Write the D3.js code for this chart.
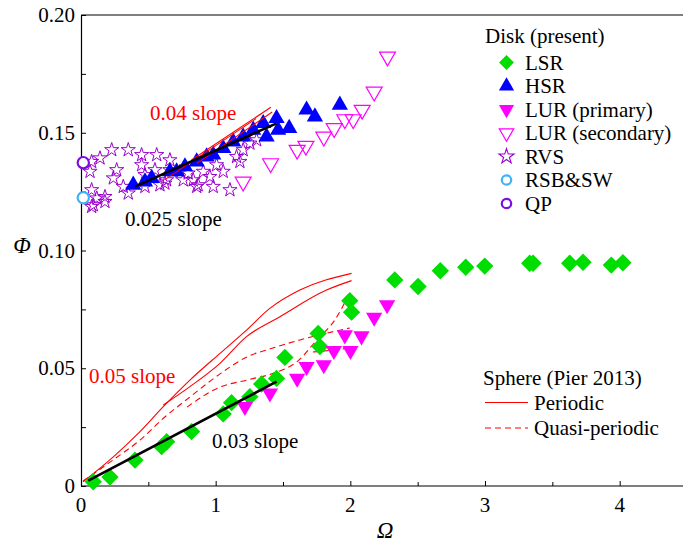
<!DOCTYPE html>
<html><head><meta charset="utf-8">
<script src="https://cdn.jsdelivr.net/npm/d3@7"></script>
<style>body{margin:0;background:#fff}svg{display:block}</style>
</head><body><div id="chart"></div>
<script>
// ---- data (Omega, Phi) ----
const lsr = [[0.091,0.0018],[0.215,0.0038],[0.401,0.0110],[0.599,0.0167],[0.636,0.0188],[0.821,0.0231],[1.056,0.0306],[1.118,0.0354],[1.254,0.0379],[1.341,0.0433],[1.452,0.0457],[1.514,0.0546],[1.761,0.0648],[1.774,0.0592],[1.996,0.0787],[2.009,0.0738],[2.330,0.0875],[2.503,0.0847],[2.668,0.0914],[2.857,0.0929],[2.998,0.0934],[3.332,0.0946],[3.357,0.0946],[3.629,0.0946],[3.728,0.0950],[3.938,0.0938],[4.024,0.0948]];
const hsr = [[0.388,0.1278],[0.475,0.1292],[0.525,0.1307],[0.660,0.1335],[0.710,0.1335],[0.772,0.1356],[0.859,0.1377],[0.933,0.1398],[0.982,0.1406],[1.056,0.1434],[1.130,0.1462],[1.204,0.1483],[1.279,0.1512],[1.353,0.1540],[1.452,0.1561],[1.378,0.1483],[1.464,0.1512],[1.546,0.1519],[1.675,0.1597],[1.737,0.1568],[1.922,0.1618]];
const lurPrimary = [[1.217,0.0337],[1.403,0.0394],[1.605,0.0457],[1.675,0.0507],[1.803,0.0514],[1.878,0.0575],[1.959,0.0641],[2.001,0.0575],[2.083,0.0637],[2.177,0.0716],[2.273,0.0769]];
const lurSecondary = [[1.204,0.1292],[1.408,0.1370],[1.605,0.1427],[1.670,0.1444],[1.803,0.1483],[1.880,0.1519],[1.959,0.1557],[2.021,0.1557],[2.088,0.1597],[2.177,0.1674],[2.276,0.1823]];
const rvs = [[0.079,0.1377],[0.141,0.1392],[0.067,0.1335],[0.079,0.1257],[0.117,0.1222],[0.091,0.1193],[0.178,0.1228],[0.228,0.1427],[0.265,0.1342],[0.351,0.1427],[0.314,0.1271],[0.450,0.1406],[0.450,0.1363],[0.562,0.1406],[0.549,0.1342],[0.475,0.1321],[0.660,0.1384],[0.660,0.1342],[0.636,0.1299],[0.586,0.1278],[0.735,0.1335],[0.796,0.1328],[0.759,0.1299],[0.833,0.1299],[0.859,0.1271],[0.908,0.1335],[0.957,0.1313],[1.007,0.1363],[0.982,0.1271],[1.106,0.1257],[1.056,0.1335],[1.155,0.1398],[1.204,0.1427],[1.254,0.1455],[1.304,0.1469],[1.180,0.1377],[0.240,0.1307],[0.079,0.1186],[0.178,0.1207],[0.351,0.1243],[0.475,0.1271],[0.623,0.1285],[0.870,0.1278]];
const rsbsw = [[0.017,0.1224]];
const qp = [[0.017,0.1373]];
// sphere (Pier 2013) curves
const periodic = [
  [[0.015,0.0018],[0.240,0.0124],[0.438,0.0231],[0.611,0.0337],[0.809,0.0450],[1.032,0.0563],[1.229,0.0662],[1.402,0.0754],[1.625,0.0832],[2.009,0.0903]],
  [[0.611,0.0344],[0.809,0.0422],[1.032,0.0521],[1.229,0.0634],[1.477,0.0719],[1.823,0.0832],[2.009,0.0872]]
];
const quasiPeriodic = [
  [[0.015,0.0021],[0.237,0.0110],[0.438,0.0195],[0.623,0.0293],[0.809,0.0378],[1.032,0.0476],[1.232,0.0548],[1.425,0.0586],[1.625,0.0620],[1.796,0.0645],[1.996,0.0671]],
  [[0.787,0.0335],[1.032,0.0420],[1.232,0.0450],[1.455,0.0484],[1.603,0.0527],[1.751,0.0620],[1.885,0.0705],[1.996,0.0820]],
  [[1.722,0.0569],[1.870,0.0577],[1.996,0.0586]]
];
// slope lines
const slope04 = [
  [[0.62,0.1300],[1.30,0.1560]],
  [[0.82,0.1384],[1.41,0.1608]],
  [[0.86,0.1370],[1.42,0.1588]]
];
const slope025 = [[0.401,0.1271],[1.452,0.1540]];
const slope03 = [[0.054,0.00225],[1.452,0.0443]];
const xTicks = [0,1,2,3,4];
const yTicks = [0,0.05,0.10,0.15,0.20];
const yTickLabels = ["0","0.05","0.10","0.15","0.20"];
const legendLabels = ["LSR","HSR","LUR (primary)","LUR (secondary)","RVS","RSB&SW","QP"];

// ---- drawing ----
const FONT="Liberation Serif";
const W=683,H=546;
const svg=d3.select("#chart").append("svg").attr("width",W).attr("height",H);
const x=d3.scaleLinear().domain([0,4.5]).range([81,687]);
const y=d3.scaleLinear().domain([0,0.2]).range([486,15]);
function txt(sel,xx,yy,s,size,color){
  return sel.append("text").attr("x",xx).attr("y",yy).attr("font-family",FONT)
    .attr("font-size",size).attr("fill",color||"#000").text(s);
}

// frame
svg.append("line").attr("x1",x(0)).attr("x2",W).attr("y1",y(0.2)).attr("y2",y(0.2)).attr("stroke","#000").attr("stroke-width",1.2);
const xAxis=svg.append("g").attr("transform",`translate(0,${y(0)})`)
  .call(d3.axisBottom(x).tickValues(d3.range(0,4.51,0.5)).tickSize(0).tickFormat(""));
xAxis.select(".domain").attr("stroke-width",1.2).attr("d",`M${x(0)},0H${W}`);
xAxis.selectAll(".tick line").attr("y2",d=>Number.isInteger(d)?-5:-4).attr("stroke","#000");
xTicks.forEach(d=>txt(svg,x(d),512,d,21).attr("text-anchor","middle"));
const yAxis=svg.append("g").attr("transform",`translate(${x(0)},0)`)
  .call(d3.axisLeft(y).tickValues(d3.range(0,0.2001,0.025)).tickSize(0).tickFormat(""));
yAxis.select(".domain").attr("stroke-width",1.2);
yAxis.selectAll(".tick line").attr("x2",5).attr("stroke","#000");
yTicks.forEach((d,i)=>txt(svg,75,y(d)+7,yTickLabels[i],21).attr("text-anchor","end"));
txt(svg,22,253,"Φ",23).attr("text-anchor","middle").attr("font-style","italic");
txt(svg,385,538,"Ω",23).attr("text-anchor","middle").attr("font-style","italic");

const line=d3.line().x(d=>x(d[0])).y(d=>y(d[1]));
const curve=d3.line().x(d=>x(d[0])).y(d=>y(d[1])).curve(d3.curveMonotoneX);
const g=svg.append("g");
periodic.forEach(c=>g.append("path").attr("d",curve(c)).attr("fill","none").attr("stroke","#f00").attr("stroke-width",1.1));
quasiPeriodic.forEach(c=>g.append("path").attr("d",curve(c)).attr("fill","none").attr("stroke","#f00").attr("stroke-width",1.1).attr("stroke-dasharray","6,4"));

// markers
const sym=(type,size)=>d3.symbol().type(type).size(size)();
function pts(data,type,size,rot,fill,stroke,sw){
  g.append("g").selectAll("path").data(data).join("path")
   .attr("d",sym(type,size))
   .attr("transform",d=>`translate(${x(d[0])},${y(d[1])}) rotate(${rot})`)
   .attr("fill",fill).attr("stroke",stroke).attr("stroke-width",sw);
}
pts(rvs,d3.symbolStar,62,0,"none","#9900cc",1);
pts(lurSecondary,d3.symbolTriangle,110,180,"none","#ff00ff",1.2);
pts(lsr,d3.symbolSquare,150,45,"#00dd00","none",0);
pts(lurPrimary,d3.symbolTriangle,115,180,"#ff00ff","none",0);
pts(hsr,d3.symbolTriangle,115,0,"#0000ff","none",0);
slope04.forEach(c=>g.append("path").attr("d",line(c)).attr("stroke","#f00").attr("stroke-width",1.1));
g.append("path").attr("d",line(slope025)).attr("stroke","#000").attr("stroke-width",2.6);
g.append("path").attr("d",line(slope03)).attr("stroke","#000").attr("stroke-width",2.6);
pts(rsbsw,d3.symbolCircle,100,0,"#fff","#3fb4f5",2.2);
pts(qp,d3.symbolCircle,100,0,"#fff","#7a10e0",2.2);

// annotations
txt(svg,150,120,"0.04 slope",21,"#f00");
txt(svg,125,226,"0.025 slope",21);
txt(svg,89,383,"0.05 slope",21,"#f00");
txt(svg,212,448,"0.03 slope",21);

// legend
const lg=svg.append("g");
txt(lg,485,43,"Disk (present)",21);
const legSym=[
  {t:d3.symbolSquare,s:110,r:45,f:"#00dd00",st:"none",w:0},
  {t:d3.symbolTriangle,s:100,r:0,f:"#0000ff",st:"none",w:0},
  {t:d3.symbolTriangle,s:100,r:180,f:"#ff00ff",st:"none",w:0},
  {t:d3.symbolTriangle,s:90,r:180,f:"none",st:"#ff00ff",w:1.2},
  {t:d3.symbolStar,s:70,r:0,f:"none",st:"#9900cc",w:1.1},
  {t:d3.symbolCircle,s:70,r:0,f:"none",st:"#3fb4f5",w:2.2},
  {t:d3.symbolCircle,s:70,r:0,f:"none",st:"#7a10e0",w:2.2}
];
legendLabels.forEach((lab,i)=>{
  const yy=62.5+i*23.5;
  const s=legSym[i];
  lg.append("path").attr("d",sym(s.t,s.s)).attr("transform",`translate(506.5,${yy}) rotate(${s.r})`)
    .attr("fill",s.f).attr("stroke",s.st).attr("stroke-width",s.w);
  txt(lg,525,yy+7,lab,21);
});
txt(lg,483,385,"Sphere (Pier 2013)",21);
lg.append("line").attr("x1",485).attr("x2",528).attr("y1",402.5).attr("y2",402.5).attr("stroke","#f00").attr("stroke-width",1.1);
txt(lg,534,410,"Periodic",21);
lg.append("line").attr("x1",485).attr("x2",528).attr("y1",428).attr("y2",428).attr("stroke","#f00").attr("stroke-width",1.1).attr("stroke-dasharray","6,4");
txt(lg,534,435,"Quasi-periodic",21);
</script></body></html>
